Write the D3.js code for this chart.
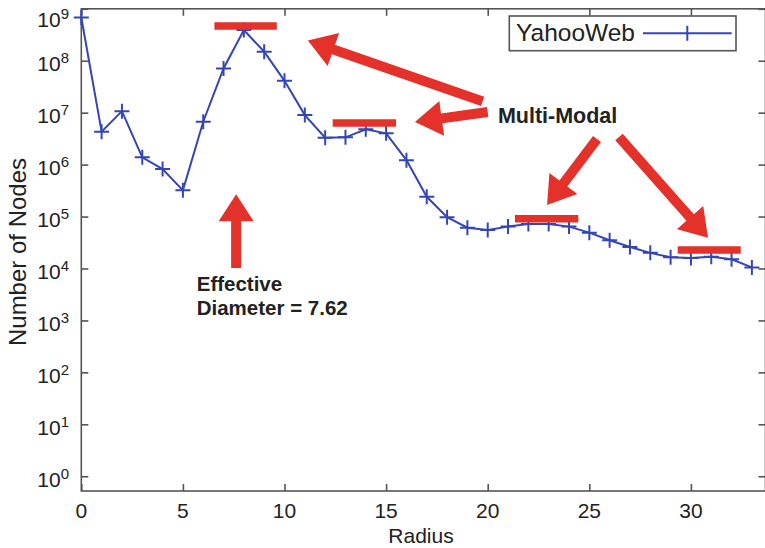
<!DOCTYPE html>
<html>
<head>
<meta charset="utf-8">
<script src="https://cdn.jsdelivr.net/npm/d3@7/dist/d3.min.js"></script>
<style>
  html, body { margin: 0; padding: 0; background: #fff; }
  svg { display: block; }
  text { font-family: "Liberation Sans", Arial, Helvetica, sans-serif; fill: #222; }
</style>
</head>
<body>
<svg id="chart" width="765" height="548"></svg>
<script>
// Neighbourhood function of the YahooWeb graph: number of nodes at each radius
const radius = d3.range(0, 34);
const nodes = [
  6.8e8, 4.3e6, 1.07e7, 1.38e6, 8.2e5, 3.2e5, 6.7e6, 7.1e7, 3.9e8, 1.49e8,
  4.1e7, 9.0e6, 3.3e6, 3.35e6, 4.8e6, 4.0e6, 1.22e6, 2.4e5, 9.7e4, 6.1e4,
  5.5e4, 6.4e4, 7.2e4, 7.2e4, 6.4e4, 4.9e4, 3.5e4, 2.6e4, 2.0e4, 1.64e4,
  1.6e4, 1.69e4, 1.5e4, 1.05e4
];
const seriesName = "YahooWeb";

const xTicks = [0, 5, 10, 15, 20, 25, 30];
const yExponents = [0, 1, 2, 3, 4, 5, 6, 7, 8, 9];

// Modes of the distribution, marked with red bars (radius span, level)
const modeStart = [6.55, 12.37, 21.34, 29.35];
const modeEnd   = [9.62, 15.49, 24.46, 32.45];
const modeLevel = [4.65e8, 6.3e6, 9.1e4, 2.27e4];

// Arrows: tail and head, in (radius, nodes)
const arrowTail = [[19.75, 1.65e7], [20.0, 1.03e7], [25.38, 3.1e6], [26.46, 3.4e6], [7.62, 1.02e4]];
const arrowHead = [[11.15, 2.45e8], [16.42, 6.6e6], [22.92, 1.67e5], [30.84, 3.9e4], [7.62, 2.7e5]];

// Label texts anchored in data space
const multiModalLabel = { text: "Multi-Modal", x: 20.5, y: 6.2e6 };
const diameterLabel = { lines: ["Effective", "Diameter = 7.62"], x: 5.68, y: 3.72e3 };

const svg = d3.select("#chart");
const plotLeft = 81.3, plotRight = 765.5, plotTop = 8.8, plotBottom = 491;

const x = d3.scaleLinear().domain([0, 33.67]).range([plotLeft, plotRight]);
const y = d3.scaleLog().domain([0.52, 1e9]).range([plotBottom, plotTop]);

const axisColor = "#555";
const blue = "#3446b4";
const red = "#e4322b";

// frame
svg.append("rect")
  .attr("x", plotLeft).attr("y", plotTop)
  .attr("width", plotRight - plotLeft).attr("height", plotBottom - plotTop)
  .attr("fill", "none").attr("stroke", axisColor).attr("stroke-width", 1.6);

const yTickVals = yExponents.map(e => Math.pow(10, e));
function styleAxis(g) {
  g.select(".domain").remove();
  g.selectAll(".tick line").attr("stroke", axisColor).attr("stroke-width", 1.6);
  g.selectAll(".tick text").remove();
}
// inward ticks on all four sides
svg.append("g").attr("transform", `translate(0,${plotBottom})`)
  .call(d3.axisBottom(x).tickValues(xTicks).tickSize(-7)).call(styleAxis);
svg.append("g").attr("transform", `translate(0,${plotTop})`)
  .call(d3.axisTop(x).tickValues(xTicks).tickSize(-7)).call(styleAxis);
svg.append("g").attr("transform", `translate(${plotLeft},0)`)
  .call(d3.axisLeft(y).tickValues(yTickVals).tickSize(-7)).call(styleAxis);
svg.append("g").attr("transform", `translate(${plotRight},0)`)
  .call(d3.axisRight(y).tickValues(yTickVals).tickSize(-7)).call(styleAxis);

// x tick labels
svg.append("g").selectAll("text").data(xTicks).join("text")
  .attr("x", d => x(d)).attr("y", 518)
  .attr("text-anchor", "middle").attr("font-size", 21)
  .text(d => d);

// y tick labels as powers of ten (the topmost one sits lower to stay inside the page)
const yl = svg.append("g").selectAll("text").data(yExponents).join("text")
  .attr("x", 69).attr("y", d => y(Math.pow(10, d)) + (d === 9 ? 18.5 : 10.5))
  .attr("text-anchor", "end").attr("font-size", 21);
yl.append("tspan").text("10");
yl.append("tspan").attr("font-size", 15).attr("dy", -8).text(d => d);

// axis titles
svg.append("text").attr("x", 421).attr("y", 543)
  .attr("text-anchor", "middle").attr("font-size", 21).text("Radius");
svg.append("text")
  .attr("transform", "translate(26,252) rotate(-90)")
  .attr("text-anchor", "middle").attr("font-size", 24).text("Number of Nodes");

// series line
const pts = radius.map((r, i) => [r, nodes[i]]);
svg.append("path")
  .attr("d", d3.line().x(d => x(d[0])).y(d => y(d[1]))(pts))
  .attr("fill", "none").attr("stroke", blue).attr("stroke-width", 2);

// plus markers
const m = 7.5;
svg.append("g").selectAll("path").data(pts).join("path")
  .attr("d", d => {
    const cx = x(d[0]), cy = y(d[1]);
    return `M${cx - m},${cy}H${cx + m}M${cx},${cy - m}V${cy + m}`;
  })
  .attr("stroke", blue).attr("stroke-width", 2).attr("fill", "none");

// mode bars
svg.append("g").selectAll("line").data(modeStart).join("line")
  .attr("x1", (d, i) => x(modeStart[i])).attr("x2", (d, i) => x(modeEnd[i]))
  .attr("y1", (d, i) => y(modeLevel[i])).attr("y2", (d, i) => y(modeLevel[i]))
  .attr("stroke", red).attr("stroke-width", 7.5);

// arrows
function arrowPath(t, h) {
  const x0 = x(t[0]), y0 = y(t[1]), x1 = x(h[0]), y1 = y(h[1]);
  const dx = x1 - x0, dy = y1 - y0, L = Math.hypot(dx, dy);
  const ux = dx / L, uy = dy / L, nx = -uy, ny = ux;
  const sw = 5, hl = 27, hw = 17.5;
  const bx = x1 - ux * hl, by = y1 - uy * hl;
  const p = [
    [x0 + nx * sw, y0 + ny * sw],
    [bx + nx * sw, by + ny * sw],
    [bx + nx * hw, by + ny * hw],
    [x1, y1],
    [bx - nx * hw, by - ny * hw],
    [bx - nx * sw, by - ny * sw],
    [x0 - nx * sw, y0 - ny * sw]
  ];
  return "M" + p.map(q => q.join(",")).join("L") + "Z";
}
svg.append("g").selectAll("path").data(arrowTail).join("path")
  .attr("d", (d, i) => arrowPath(arrowTail[i], arrowHead[i]))
  .attr("fill", red);

// annotation labels
svg.append("text")
  .attr("x", x(multiModalLabel.x)).attr("y", y(multiModalLabel.y))
  .attr("font-size", 21.5).attr("font-weight", "bold").attr("fill", "#111")
  .text(multiModalLabel.text);
svg.append("g").selectAll("text").data(diameterLabel.lines).join("text")
  .attr("x", x(diameterLabel.x)).attr("y", (d, i) => y(diameterLabel.y) + i * 23.8)
  .attr("font-size", 20.5).attr("font-weight", "bold").attr("fill", "#111")
  .text(d => d);

// legend
const lg = svg.append("g");
lg.append("rect").attr("x", 509.3).attr("y", 16).attr("width", 226.7).attr("height", 34.7)
  .attr("fill", "#fff").attr("stroke", axisColor).attr("stroke-width", 1.6);
lg.append("text").attr("x", 516).attr("y", 41).attr("font-size", 24.5).text(seriesName);
lg.append("line").attr("x1", 643).attr("x2", 731.7).attr("y1", 33.3).attr("y2", 33.3)
  .attr("stroke", blue).attr("stroke-width", 2);
lg.append("path").attr("d", `M687.3,${33.3 - m}V${33.3 + m}`)
  .attr("stroke", blue).attr("stroke-width", 2);
</script>
</body>
</html>
